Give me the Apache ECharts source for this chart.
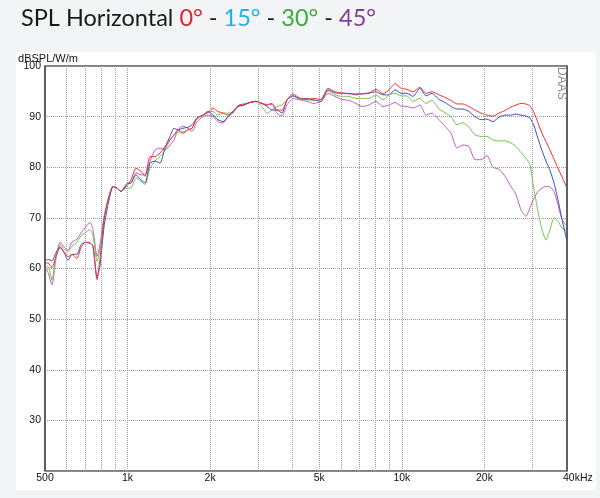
<!DOCTYPE html>
<html><head><meta charset="utf-8">
<script src="https://cdn.jsdelivr.net/npm/echarts@6/dist/echarts.min.js"></script>
<style>html,body{margin:0;padding:0;background:#f3f4f6}#c{width:600px;height:498px}</style>
</head><body><div id="c"></div>
<script>
// Frequencies (Hz)
const freqs = [
  500,513,530,548,567,591,607,627,654,676,
  699,729,748,774,793,821,849,885,915,946,
  995,1029,1073,1119,1158,1207,1259,1313,1369,1428,
  1477,1527,1592,1661,1717,1791,1884,1964,2049,2136,
  2228,2323,2423,2527,2657,2795,2939,3091,3223,3361,
  3505,3656,3812,4009,4251,4508,4781,5072,5379,5704,
  6050,6417,6805,7157,7590,8049,8535,8977,9440,9929,
  10437,10976,11641,12246,12879,13659,14366,15105,15885,16705,
  17568,18472,19427,20431,21485,22597,23767,24997,26067,27184,
  28344,29313,30314,31352,32424,33534,34672,35860,37086,38355,
  40000
];
// 0 degrees (red)
const spl0 = [
  61.0,61.1,60.1,62.4,64.1,63.1,62.3,62.8,62.0,64.1,
  65.2,65.1,64.4,57.8,61.8,69.7,73.6,76.2,75.9,75.2,
  76.4,77.5,79.8,79.2,78.2,82.1,82.1,82.8,84.1,85.4,
  86.4,87.4,86.7,87.4,87.7,89.7,90.3,90.8,91.7,91.0,
  90.7,90.3,91.0,92.2,92.5,92.8,93.0,92.6,92.4,92.6,
  91.3,91.3,93.3,94.5,93.6,93.4,93.6,93.4,95.6,94.9,
  94.7,94.5,94.5,94.5,94.6,95.4,94.5,95.3,96.5,95.6,
  95.4,94.9,95.8,94.6,94.9,94.3,93.8,93.2,92.5,92.5,
  92.0,91.3,90.7,90.3,90.1,90.7,91.2,91.9,92.3,92.6,
  92.5,92.1,90.8,88.8,86.7,85.1,83.4,81.6,79.8,78.1,
  75.9
];
// 15 degrees (blue)
const spl15 = [
  61.5,61.8,61.5,63.1,64.3,62.8,61.6,62.8,62.8,64.7,
  65.1,65.0,64.4,58.2,60.5,68.3,72.6,76.2,75.9,75.2,
  76.8,76.9,78.5,77.5,76.9,80.8,81.2,80.8,83.8,86.1,
  87.7,87.4,87.7,87.9,88.4,89.7,90.3,91.0,90.3,89.4,
  89.0,90.0,91.0,92.0,92.3,92.8,93.0,92.6,92.0,91.3,
  91.3,90.7,93.3,94.1,93.6,93.6,93.3,93.0,95.3,94.7,
  94.6,94.6,94.3,94.5,94.7,94.9,94.3,94.3,95.3,94.6,
  94.6,94.0,95.6,94.1,94.6,93.4,92.8,92.0,91.5,91.5,
  91.0,90.0,89.4,89.5,89.0,89.9,90.3,90.3,90.5,90.3,
  90.1,89.7,88.2,85.7,83.3,81.2,79.4,76.9,73.6,69.7,
  65.4
];
// 30 degrees (green)
const spl30 = [
  60.2,60.4,57.7,62.4,64.7,63.7,63.4,64.4,65.2,66.4,
  67.0,67.7,66.4,61.4,63.7,69.7,73.6,76.2,75.9,75.3,
  75.9,75.9,77.9,77.2,76.6,79.8,81.2,82.1,83.4,85.4,
  86.4,86.9,87.0,87.4,87.7,89.7,90.3,91.0,91.0,90.3,
  90.7,90.7,91.0,92.0,92.3,92.8,93.1,92.0,90.7,91.3,
  92.0,92.3,93.3,94.1,93.4,93.3,93.2,93.4,95.1,94.3,
  94.0,94.0,93.6,93.6,93.6,94.3,93.3,94.3,94.6,94.1,
  94.1,93.0,93.6,92.6,93.2,91.5,90.8,90.0,88.4,88.8,
  87.9,86.4,86.1,86.1,85.4,85.2,85.2,84.8,84.1,82.9,
  81.8,80.5,75.6,71.3,67.7,65.6,67.7,70.0,69.3,68.0,
  67.4
];
// 45 degrees (purple)
const spl45 = [
  60.2,59.2,56.8,61.8,65.2,64.1,63.6,65.2,65.8,67.0,
  68.0,69.1,67.7,62.4,64.7,70.3,73.6,76.2,75.9,75.2,
  76.6,76.9,78.9,78.5,78.5,81.2,83.4,83.8,83.4,84.4,
  85.4,87.4,88.1,87.7,87.1,89.0,90.0,90.3,90.0,89.0,
  88.7,90.0,90.7,92.0,92.3,92.8,93.0,92.6,92.3,92.4,
  90.7,90.1,92.3,93.6,93.3,93.0,92.6,93.0,94.6,94.0,
  93.4,93.2,92.6,92.0,92.3,93.0,92.0,92.3,92.8,92.1,
  92.0,91.7,92.3,90.3,90.7,89.4,88.1,86.7,83.8,84.4,
  84.1,81.5,81.5,82.3,80.0,79.6,78.2,76.2,74.6,71.6,
  70.3,72.0,73.9,75.2,75.9,76.2,76.1,75.2,72.6,69.7,
  68.3
];
// Vertical grid lines and frequency tick labels
const gridFreqs = [500,600,700,800,900,1000,2000,3000,4000,5000,6000,7000,8000,9000,10000,20000,30000,40000];
const freqLabels = {500:'500',1000:'1k',2000:'2k',5000:'5k',10000:'10k',20000:'20k',40000:'40kHz'};
const yMin = 20, yMax = 100, yStep = 10;

const chart = echarts.init(document.getElementById('c'));
function mk(name, vals, color) {
  return {
    name: name, type: 'line', symbol: 'none', showSymbol: false, smooth: 0.2,
    data: freqs.map((f, i) => [f, vals[i]]),
    lineStyle: { color: color, width: 1 }, itemStyle: { color: color },
    animation: false, z: 3
  };
}
const markData = gridFreqs.map(f => {
  const txt = freqLabels[f] || '';
  const edge = (f === 500 || f === 40000);
  const item = { xAxis: f, label: { show: !!txt, formatter: txt } };
  if (f === 40000) { item.label.align = 'left'; item.label.offset = [-4, 0]; }
  if (edge) item.lineStyle = { color: '#555555', type: 'solid', width: 1.5 };
  return item;
});
const titleFont = { fontSize: 23.5, fontFamily: 'Lato', fontWeight: 'normal' };
chart.setOption({
  backgroundColor: '#f3f4f6',
  animation: false,
  title: {
    left: 16, top: 1,
    text: '{k|SPL Horizontal }{r|0°}{k| - }{c|15°}{k| - }{g|30°}{k| - }{p|45°}',
    textStyle: {
      fontWeight: 'normal',
      rich: {
        k: Object.assign({ color: '#1a1a1a' }, titleFont),
        r: Object.assign({ color: '#e32228' }, titleFont),
        c: Object.assign({ color: '#1eb0ee' }, titleFont),
        g: Object.assign({ color: '#3aac38' }, titleFont),
        p: Object.assign({ color: '#7d3fa0' }, titleFont)
      }
    }
  },
  graphic: [
    { type: 'rect', z: -10, shape: { x: 16, y: 52, width: 580, height: 438 }, style: { fill: '#ffffff' } },
    { type: 'text', z: 100, x: 567, y: 67, rotation: -Math.PI / 2,
      style: { text: 'DAAS', x: 0, y: 0, align: 'left', verticalAlign: 'top', fill: '#8a8a8a', font: '12px "Liberation Sans"' } }
  ],
  grid: { left: 45, right: 33, top: 66, bottom: 27, show: true, borderColor: '#555555', borderWidth: 1.5, backgroundColor: 'transparent' },
  xAxis: {
    type: 'log', logBase: 10, min: 500, max: 40000,
    axisLine: { show: false }, axisTick: { show: false }, axisLabel: { show: false }, splitLine: { show: false }
  },
  yAxis: {
    type: 'value', min: yMin, max: yMax, interval: yStep,
    name: 'dBSPL/W/m', nameLocation: 'end', nameGap: 2, nameMoveOverlap: false,
    nameTextStyle: { color: '#111', fontSize: 11, fontFamily: 'Liberation Sans', align: 'center', verticalAlign: 'bottom', padding: [0, 0, 0, 6] },
    axisLine: { show: false }, axisTick: { show: false },
    axisLabel: { color: '#111', fontSize: 10.5, fontFamily: 'Liberation Sans', margin: 4,
      formatter: v => (v === yMin ? '' : String(v)) },
    splitLine: { show: true, lineStyle: { color: '#9a9a9a', type: 'dotted', width: 1 } }
  },
  series: [
    {
      name: 'grid', type: 'line', symbol: 'none', data: [[500, 20]], lineStyle: { opacity: 0 }, z: 1,
      markLine: {
        silent: true, symbol: ['none', 'none'], animation: false,
        lineStyle: { color: '#9a9a9a', type: 'dotted', width: 1 },
        label: { position: 'start', color: '#111', fontSize: 10.5, fontFamily: 'Liberation Sans', distance: 2 },
        data: markData
      }
    },
    mk('45°', spl45, '#c35bc3'),
    mk('30°', spl30, '#6cc64c'),
    mk('15°', spl15, '#3a4ec0'),
    mk('0°', spl0, '#ff2a2a')
  ]
});
</script></body></html>
